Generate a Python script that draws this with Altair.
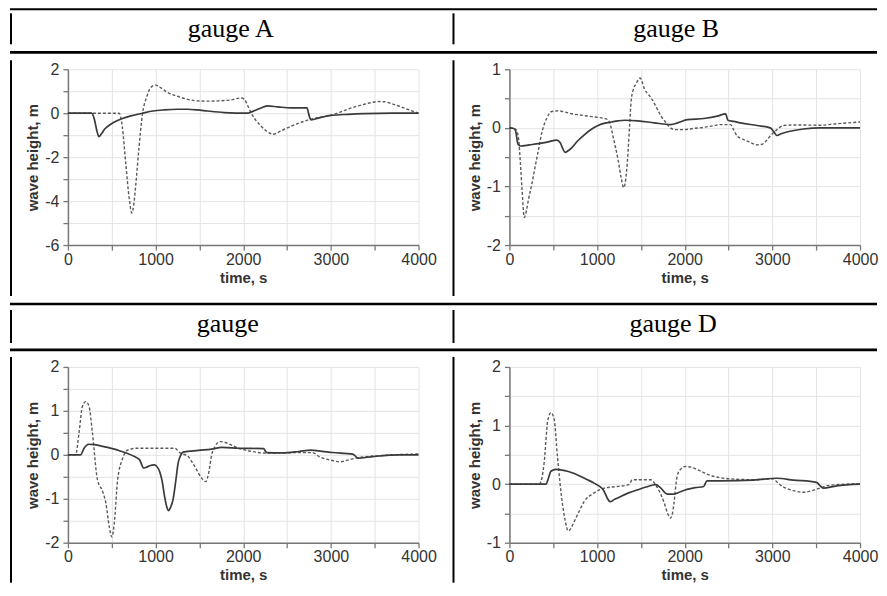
import altair as alt
import pandas as pd
import numpy as np

# ---------------- data ----------------
A_solid_t = [0, 270, 300, 330, 354, 380, 420, 488, 560, 621, 720, 850, 970, 1097, 1250, 1364, 1480, 1592, 1783, 2050, 2080, 2180, 2278, 2392, 2545, 2728, 2745, 2760, 2773, 2880, 3002, 3200, 3383, 3700, 4000]
A_solid_v = [0, 0, -0.25, -0.8, -1.07, -0.95, -0.72, -0.5, -0.34, -0.24, -0.12, 0, 0.1, 0.15, 0.18, 0.18, 0.15, 0.1, 0.03, 0.0, 0.04, 0.2, 0.33, 0.29, 0.24, 0.24, 0.0, -0.22, -0.3, -0.2, -0.1, -0.05, -0.02, 0.0, 0.0]
A_dash_t = [0, 583, 620, 659, 700, 728, 750, 773, 810, 850, 900, 945, 1002, 1060, 1135, 1210, 1288, 1380, 1478, 1600, 1707, 1850, 1973, 2011, 2050, 2088, 2140, 2202, 2260, 2316, 2340, 2400, 2469, 2545, 2621, 2700, 2773, 2880, 3002, 3100, 3192, 3290, 3383, 3460, 3535, 3611, 3690, 3764, 3880, 4000]
A_dash_v = [0, 0, -0.6, -2.26, -3.9, -4.54, -4.2, -3.3, -1.6, -0.05, 0.75, 1.17, 1.28, 1.15, 0.95, 0.82, 0.72, 0.62, 0.56, 0.55, 0.56, 0.6, 0.69, 0.64, 0.35, 0.03, -0.3, -0.58, -0.8, -0.93, -0.96, -0.87, -0.73, -0.6, -0.47, -0.36, -0.27, -0.18, -0.09, 0.04, 0.18, 0.31, 0.41, 0.48, 0.53, 0.52, 0.44, 0.34, 0.17, 0.0]

B_solid_t = [0, 49, 70, 98, 125, 230, 332, 440, 540, 578, 605, 635, 670, 710, 780, 861, 940, 1012, 1090, 1163, 1240, 1314, 1466, 1654, 1843, 1919, 2032, 2221, 2372, 2466, 2493, 2560, 2636, 2825, 2976, 3014, 3052, 3100, 3165, 3354, 3543, 4000]
B_solid_v = [0, -0.01, -0.05, -0.28, -0.31, -0.29, -0.27, -0.24, -0.21, -0.25, -0.34, -0.42, -0.39, -0.34, -0.22, -0.11, -0.02, 0.04, 0.08, 0.1, 0.12, 0.13, 0.12, 0.085, 0.056, 0.085, 0.14, 0.16, 0.2, 0.24, 0.13, 0.11, 0.085, 0.04, 0.0, -0.06, -0.13, -0.1, -0.07, -0.02, 0.0, 0.0]
B_dash_t = [0, 68, 90, 106, 125, 144, 170, 195, 219, 260, 295, 335, 370, 400, 427, 483, 559, 630, 710, 800, 899, 1000, 1088, 1120, 1144, 1190, 1239, 1275, 1303, 1325, 1345, 1370, 1390, 1420, 1447, 1492, 1510, 1541, 1580, 1617, 1670, 1730, 1780, 1824, 1881, 1994, 2100, 2221, 2320, 2410, 2523, 2560, 2599, 2674, 2750, 2825, 2882, 2930, 2976, 3052, 3127, 3279, 3543, 3732, 4000]
B_dash_v = [0, -0.02, -0.08, -0.2, -0.6, -1.05, -1.53, -1.4, -1.21, -0.93, -0.65, -0.35, -0.08, 0.07, 0.17, 0.28, 0.29, 0.27, 0.24, 0.22, 0.2, 0.18, 0.16, 0.14, 0.085, -0.2, -0.54, -0.85, -1.02, -0.9, -0.59, 0.0, 0.48, 0.68, 0.76, 0.85, 0.8, 0.66, 0.58, 0.51, 0.37, 0.2, 0.1, 0.017, -0.03, -0.03, -0.01, 0.01, 0.035, 0.056, 0.056, -0.04, -0.14, -0.2, -0.25, -0.29, -0.28, -0.22, -0.14, -0.03, 0.04, 0.05, 0.045, 0.07, 0.1]

C_solid_t = [0, 146, 184, 241, 299, 380, 452, 530, 605, 680, 759, 816, 866, 900, 931, 989, 1020, 1046, 1075, 1103, 1130, 1149, 1170, 1199, 1230, 1257, 1285, 1314, 1487, 1640, 1755, 1946, 2234, 2250, 2272, 2444, 2636, 2770, 2900, 3019, 3249, 3280, 3307, 3479, 3785, 4000]
C_solid_v = [0, 0, 0.15, 0.24, 0.23, 0.2, 0.17, 0.13, 0.08, 0.03, -0.04, -0.11, -0.3, -0.28, -0.25, -0.23, -0.28, -0.38, -0.6, -0.95, -1.2, -1.27, -1.2, -1.02, -0.6, -0.19, -0.02, 0.06, 0.1, 0.13, 0.17, 0.15, 0.14, 0.09, 0.05, 0.045, 0.076, 0.106, 0.08, 0.053, 0.015, -0.03, -0.076, -0.04, 0.0, 0.0]
C_dash_t = [0, 88, 126, 165, 203, 241, 280, 337, 395, 433, 471, 502, 529, 567, 625, 682, 797, 1218, 1276, 1372, 1448, 1525, 1571, 1609, 1640, 1678, 1736, 1793, 1946, 2099, 2253, 2636, 2789, 2866, 3019, 3096, 3211, 3326, 3594, 4000]
C_dash_v = [0, 0, 0.49, 1.1, 1.21, 1.1, 0.49, -0.57, -0.83, -1.1, -1.63, -1.87, -1.55, -0.57, -0.08, 0.11, 0.15, 0.15, 0.05, -0.04, -0.27, -0.53, -0.61, -0.38, 0.0, 0.19, 0.3, 0.28, 0.15, 0.076, 0.04, 0.05, 0.05, -0.04, -0.13, -0.16, -0.11, -0.06, -0.015, 0.02]

D_solid_t = [0, 417, 445, 473, 530, 600, 663, 740, 814, 890, 966, 1030, 1072, 1117, 1148, 1200, 1269, 1360, 1458, 1560, 1667, 1723, 1799, 1875, 1950, 2027, 2120, 2216, 2254, 2405, 2784, 3049, 3239, 3504, 3540, 3580, 3731, 4000]
D_solid_v = [0, 0, 0.1, 0.22, 0.25, 0.24, 0.22, 0.18, 0.13, 0.075, 0.017, -0.04, -0.1, -0.24, -0.3, -0.26, -0.21, -0.15, -0.1, -0.05, -0.01, -0.06, -0.17, -0.17, -0.13, -0.09, -0.06, -0.04, 0.057, 0.057, 0.069, 0.1, 0.069, 0.03, -0.02, -0.07, -0.03, 0.0]
D_dash_t = [0, 341, 370, 398, 436, 473, 511, 549, 606, 640, 670, 700, 739, 800, 852, 966, 1080, 1231, 1364, 1402, 1610, 1667, 1761, 1810, 1837, 1860, 1875, 1913, 1951, 2008, 2070, 2140, 2292, 2519, 2822, 3011, 3050, 3087, 3239, 3352, 3430, 3504, 3655, 4000]
D_dash_v = [0, 0, 0.1, 0.39, 1.07, 1.22, 1.1, 0.45, -0.35, -0.65, -0.8, -0.76, -0.64, -0.45, -0.3, -0.15, -0.07, -0.04, -0.01, 0.074, 0.074, -0.01, -0.3, -0.52, -0.58, -0.5, -0.35, 0.13, 0.25, 0.3, 0.29, 0.25, 0.15, 0.09, 0.074, 0.09, 0.04, -0.01, -0.11, -0.14, -0.12, -0.086, -0.02, 0.006]

titles = ["gauge A", "gauge B", "gauge", "gauge D"]
y_domains = [[-6, 2], [-2, 1], [-2, 2], [-1, 2]]
y_label_steps = [2, 1, 1, 1]
x_tick_values = list(range(0, 4001, 500))

W, H = 351, 176
dummy = pd.DataFrame({"k": [0]})


def hrule(x1, x2, y, w):
    return alt.Chart(dummy).mark_rule(color="black", strokeWidth=w).encode(
        x=alt.value(x1), x2=alt.value(x2), y=alt.value(y))


def vrule(x, y1, y2, w=2):
    return alt.Chart(dummy).mark_rule(color="black", strokeWidth=w).encode(
        x=alt.value(x), y=alt.value(y1), y2=alt.value(y2))


def head(txt, x, y):
    return alt.Chart(dummy).mark_text(
        font="Liberation Serif", fontSize=26, baseline="alphabetic",
        align="center", color="black").encode(
        x=alt.value(x), y=alt.value(y), text=alt.value(txt))


def panel(st, sv, dt, dv, ydom, lstep, decor):
    df = pd.DataFrame({
        "t": st + dt,
        "v": sv + dv,
        "s": ["solid"] * len(st) + ["dash"] * len(dt),
    })
    yvals = [float(v) for v in np.arange(ydom[0], ydom[1] + 1e-9, lstep / 2)]
    base = alt.Chart(df).encode(
        x=alt.X("t:Q", scale=alt.Scale(domain=[0, 4000], nice=False, zero=False),
                axis=alt.Axis(values=x_tick_values, title="time, s", labelFlush=False,
                              labelExpr="datum.value % 1000 == 0 ? toString(datum.value) : ''",
                              labelPadding=1, titlePadding=3)),
        y=alt.Y("v:Q", scale=alt.Scale(domain=ydom, nice=False, zero=False),
                axis=alt.Axis(values=yvals, title="wave height, m", labelFlush=False,
                              labelExpr=f"datum.value % {lstep} == 0 ? toString(datum.value) : ''",
                              labelPadding=4, titlePadding=4)),
    )
    dash = base.transform_filter("datum.s == 'dash'").mark_line(
        color="#5a5a5a", strokeWidth=1.4, strokeDash=[3, 2], interpolate="monotone")
    solid = base.transform_filter("datum.s == 'solid'").mark_line(
        color="#3a3a3a", strokeWidth=1.7, interpolate="monotone")
    return alt.layer(dash, solid, *decor).properties(width=W, height=H)


decA = [hrule(-58, 810, -60, 2), vrule(-57, -56, -25), vrule(386, -56, -25),
        hrule(-58, 810, -17, 2.7), vrule(-57, -9, 227), vrule(386, -9, 227),
        head(titles[0], 163, -32)]
decB = [head(titles[1], 167, -32)]
decC = [hrule(-58, 810, -63, 2.7), vrule(-57, -57, -24), vrule(386, -57, -24),
        hrule(-58, 810, -17, 2.7), vrule(-57, -10, 216), vrule(386, -10, 216),
        head(titles[2], 160, -35)]
decD = [head(titles[3], 164, -35)]

pA = panel(A_solid_t, A_solid_v, A_dash_t, A_dash_v, y_domains[0], y_label_steps[0], decA)
pB = panel(B_solid_t, B_solid_v, B_dash_t, B_dash_v, y_domains[1], y_label_steps[1], decB)
pC = panel(C_solid_t, C_solid_v, C_dash_t, C_dash_v, y_domains[2], y_label_steps[2], decC)
pD = panel(D_solid_t, D_solid_v, D_dash_t, D_dash_v, y_domains[3], y_label_steps[3], decD)

chart = alt.concat(
    pA, pB, pC, pD, columns=2,
    spacing=alt.RowColnumber(row=122, column=91),
    bounds="flush",
).properties(padding=0).configure_view(strokeWidth=0).configure_axis(
    domainColor="#777777", domainWidth=1.5,
    tickColor="#777777", tickWidth=1.3, tickSize=5,
    gridColor="#e4e4e4", gridWidth=1,
    labelFont="Liberation Sans", labelFontSize=16, labelColor="#333333",
    titleFont="Liberation Sans", titleFontSize=15, titleColor="#333333",
    titleFontWeight="bold",
)

chart.save("out.html", embed_options={"renderer": "svg", "actions": False})
